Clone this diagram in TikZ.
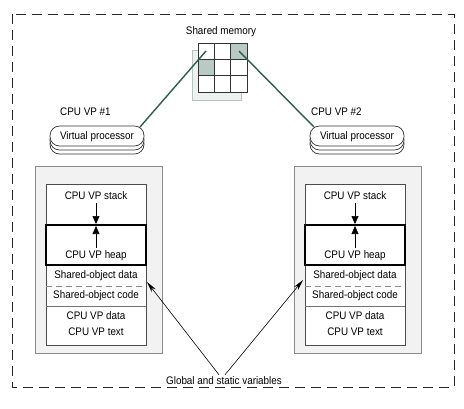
\documentclass[tikz,border=0pt]{standalone}
\usepackage{fontspec}
\setmainfont{Liberation Sans}[FakeStretch=0.9]
\usetikzlibrary{arrows.meta}
\definecolor{tealline}{HTML}{2C5C52}
\definecolor{cellshade}{HTML}{B9C9C3}
\definecolor{shadowfill}{HTML}{EDF2F0}
\definecolor{shadowdraw}{HTML}{B4C4BE}
\definecolor{panelfill}{HTML}{F2F2F2}
\definecolor{paneldraw}{HTML}{8A8A8A}
\tikzset{
  lbl/.style={font=\fontsize{11}{13}\selectfont, inner sep=0pt},
  panel/.style={draw=paneldraw, fill=panelfill, line width=0.8bp},
  inner/.style={draw=black!70, fill=white, line width=0.7bp},
  heapbox/.style={draw=black, line width=1.8bp},
  sep/.style={draw=black!55, line width=0.7bp},
  dsep/.style={draw=black!45, line width=0.7bp, dash pattern=on 6bp off 4bp},
  pill/.style={draw=black!80, fill=white, line width=0.7bp, rounded corners=9.5bp},
  memline/.style={draw=tealline, line width=1.4bp},
  ptr/.style={draw=black, line width=0.6bp, -{Stealth[length=11bp,width=5bp]}},
  tri/.style={draw=black, line width=0.6bp, -{Triangle[length=8bp,width=7bp]}},
}
\begin{document}
\begin{tikzpicture}[x=1bp,y=-1bp]
\useasboundingbox (0,0) rectangle (464,408);

% outer dashed frame
\draw[dash pattern=on 10bp off 6bp, line width=0.8bp, black!85] (12,14) rectangle (454,387);

% shared memory
\node[lbl] (memlabel) at (221,32) {Shared memory};
\draw[draw=shadowdraw, fill=shadowfill, line width=0.7bp] (192,50) rectangle (241,100);
\node[draw=none, fill=white, minimum width=49bp, minimum height=49bp, inner sep=0pt, anchor=north west] (mem) at (198,43) {};
\fill[cellshade] (230.67,43) rectangle (247,59.33);
\fill[cellshade] (198,59.33) rectangle (214.33,75.67);
\foreach \i in {59.33,75.67} \draw[black!80, line width=0.7bp] (198,\i) -- (247,\i);
\foreach \i in {214.33,230.67} \draw[black!80, line width=0.7bp] (\i,43) -- (\i,92);
\draw[black!80, line width=0.8bp] (mem.north west) rectangle (mem.south east);
\coordinate (cellA) at (206,51);
\coordinate (cellB) at (239,51);

% processors
\node[lbl, anchor=west] (vp1) at (60,112) {CPU VP \#1};
\node[lbl, anchor=west] (vp2) at (311,112) {CPU VP \#2};

\draw[pill] (50,134) rectangle (144,154);
\draw[pill] (50,130) rectangle (144,150);
\draw[pill] (50,126) rectangle (144,146);
\node[lbl] (proc1) at (97,137) {Virtual processor};

\draw[pill] (310,134) rectangle (404,154);
\draw[pill] (310,130) rectangle (404,150);
\draw[pill] (310,126) rectangle (404,146);
\node[lbl] (proc2) at (357,137) {Virtual processor};

\coordinate (p1end) at (140,127);
\coordinate (p2end) at (314,127);
\draw[memline] (cellA) -- (p1end);
\draw[memline] (cellB) -- (p2end);

% panels
\foreach \x/\n in {35/L,294/R}{
  \draw[panel] (\x,166) rectangle ++(127,187);
  \draw[inner] (\x+11,184) rectangle ++(100,161);
  \draw[sep] (\x+11,306) -- ++(100,0);
  \draw[dsep] (\x+11,286) -- ++(100,0);
  \draw[heapbox] (\x+11,225) rectangle ++(100,40);
  \node[lbl] (stack\n) at (\x+61,196) {CPU VP stack};
  \node[lbl] (heap\n) at (\x+61,256) {CPU VP heap};
  \node[lbl] (sod\n) at (\x+61,276) {Shared-object data};
  \node[lbl] (soc\n) at (\x+61,296) {Shared-object code};
  \node[lbl] (data\n) at (\x+61,316) {CPU VP data};
  \node[lbl] (text\n) at (\x+61,332) {CPU VP text};
  \coordinate (heaptop\n) at (\x+61,224);
  \coordinate (heaptopb\n) at (\x+61,226);
  \draw[tri] (stack\n.south) ++(0,3) -- (heaptop\n);
  \draw[tri] (heap\n.north) ++(0,-3) -- (heaptopb\n);
}

% global and static variables
\node[lbl] (gsv) at (224,381) {Global and static variables};
\coordinate (tipL) at (147,282);
\coordinate (tipR) at (303,280);
\draw[ptr] ([xshift=-5bp]gsv.north) ++(0,-2) -- (tipL);
\draw[ptr] ([xshift=1bp]gsv.north) ++(0,-2) -- (tipR);
\end{tikzpicture}
\end{document}
